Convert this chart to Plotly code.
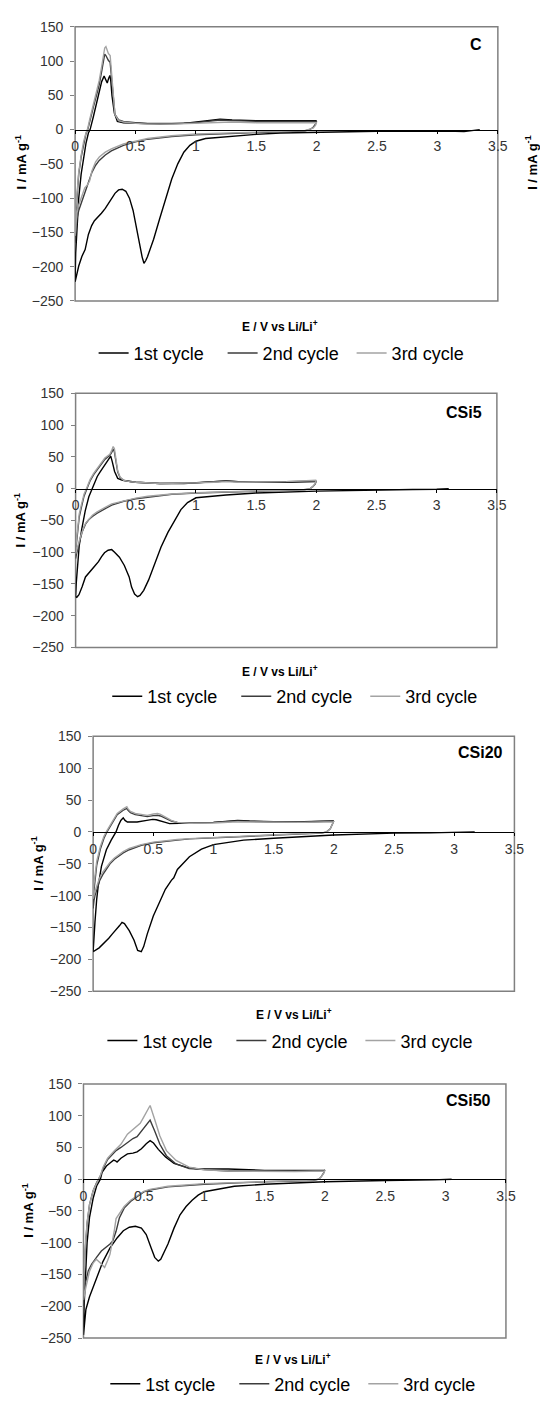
import plotly.graph_objects as go

# ---------------- data (E / V vs Li/Li+, I / mA g-1) ----------------
panel_names = ["C", "CSi5", "CSi20", "CSi50"]
cycle_names = ["1st cycle", "2nd cycle", "3rd cycle"]

# ---- C ----
C_E1 = [3.35, 3.3, 3.22, 3.15, 3.0, 2.5, 2.0, 1.7, 1.5, 1.25, 1.08, 1.0, 0.95, 0.9, 0.85, 0.8, 0.75, 0.7, 0.65,
        0.62, 0.6, 0.585, 0.57, 0.555, 0.535, 0.51, 0.48, 0.45, 0.42, 0.39, 0.36, 0.33, 0.285, 0.25, 0.218, 0.18,
        0.16, 0.137, 0.11, 0.083, 0.056, 0.03, 0.01, 0.0,
        0.005, 0.015, 0.03, 0.05, 0.07, 0.09, 0.11, 0.124, 0.15, 0.18, 0.2, 0.22, 0.24, 0.255, 0.266, 0.278, 0.288,
        0.296, 0.305, 0.325, 0.35, 0.4, 0.5, 0.7, 0.9, 1.0, 1.1, 1.2, 1.3, 1.5, 1.8, 2.0]
C_I1 = [0, -1, -3, -2.5, -2, -2.5, -3.5, -5, -7, -10, -13, -17, -23, -33, -50, -72, -100, -130, -160,
        -176, -185, -191, -195, -186, -168, -142, -118, -100, -90, -87, -88, -93, -106, -115, -122, -129,
        -133, -140, -153, -175, -185, -199, -212, -222,
        -180, -140, -100, -65, -40, -20, -5, 0, 18, 40, 55, 70, 78, 72, 68, 75, 79,
        70, 50, 24, 12, 10, 9, 8, 9, 11, 13, 15, 14, 13, 13, 13]
C_E2 = [2.0, 1.99, 1.97, 1.94, 1.9, 1.7, 1.5, 1.2, 1.0, 0.8, 0.6, 0.5, 0.4, 0.3, 0.25, 0.2, 0.17, 0.14, 0.12,
        0.1, 0.08, 0.05, 0.03, 0.015, 0.005, 0.0,
        0.005, 0.015, 0.03, 0.05, 0.07, 0.09, 0.105, 0.12, 0.15, 0.18, 0.2, 0.22, 0.235, 0.245, 0.255, 0.265,
        0.275, 0.29, 0.3, 0.315, 0.33, 0.36, 0.4, 0.5, 0.6, 0.8, 1.0, 1.1, 1.2, 1.3, 1.5, 1.8, 2.0]
C_I2 = [13, 8, 3, 0, -2, -3, -4, -6, -7.5, -10, -14, -18, -23, -31, -37, -45, -52, -62, -72,
        -85, -95, -108, -118, -130, -148, -165,
        -125, -95, -65, -40, -20, -6, 0, 12, 32, 52, 66, 85, 102, 110, 108, 104,
        101, 98, 80, 45, 22, 14, 12, 10, 9, 9, 10, 12, 14, 13, 12, 12, 12]
C_E3 = [2.0, 1.99, 1.97, 1.94, 1.9, 1.7, 1.5, 1.2, 1.0, 0.8, 0.6, 0.5, 0.4, 0.3, 0.25, 0.2, 0.17, 0.14, 0.12,
        0.1, 0.08, 0.06, 0.03, 0.015, 0.005, 0.0,
        0.005, 0.015, 0.03, 0.05, 0.07, 0.09, 0.105, 0.12, 0.15, 0.18, 0.2, 0.22, 0.235, 0.245, 0.255, 0.265,
        0.275, 0.29, 0.3, 0.315, 0.33, 0.36, 0.4, 0.5, 0.6, 0.8, 1.0, 1.1, 1.2, 1.3, 1.5, 1.8, 2.0]
C_I3 = [11, 6, 2, 0, -1.5, -2.5, -3.5, -5, -6.5, -9, -13, -17, -21, -28, -33, -40, -47, -60, -75,
        -81, -85, -95, -110, -122, -140, -155,
        -118, -90, -62, -38, -18, -5, 2, 14, 35, 56, 72, 92, 110, 119, 121, 116,
        111, 108, 88, 48, 22, 13, 11, 9, 8, 8, 9, 10, 11, 11, 10, 10, 10]

# ---- CSi5 ----
S5_E1 = [3.1, 3.0, 2.8, 2.5, 2.0, 1.5, 1.25, 1.0, 0.93, 0.875, 0.82, 0.767, 0.71, 0.66, 0.606, 0.566, 0.535,
         0.515, 0.49, 0.465, 0.445, 0.405, 0.364, 0.324, 0.3, 0.27, 0.24, 0.216, 0.19, 0.163, 0.135, 0.109,
         0.082, 0.055, 0.028, 0.01, 0.0,
         0.005, 0.015, 0.03, 0.05, 0.08, 0.11, 0.136, 0.16, 0.18, 0.2, 0.23, 0.26, 0.28, 0.292, 0.305, 0.324,
         0.35, 0.39, 0.5, 0.7, 0.9, 1.0, 1.15, 1.25, 1.35, 1.5, 1.75, 2.0]
S5_I1 = [0, -1, -1.5, -2, -4, -7, -10, -14.5, -22, -33, -51, -69, -92, -118, -144, -160, -168,
         -170, -166, -155, -139, -121, -108, -100, -96, -97, -101, -107, -115, -121, -127, -132,
         -139, -154, -167, -171, -170,
         -150, -118, -90, -65, -35, -13, 0, 10, 19, 25, 34, 42, 48, 51, 42, 27,
         16, 13, 10, 8, 8, 9, 11, 12, 11, 10, 10, 11]
S5_E2 = [2.0, 1.99, 1.97, 1.95, 1.9, 1.7, 1.5, 1.2, 1.0, 0.8, 0.7, 0.6, 0.5, 0.4, 0.3, 0.25, 0.2, 0.176, 0.14,
         0.109, 0.085, 0.069, 0.055, 0.042, 0.028, 0.015, 0.005, 0.0,
         0.005, 0.015, 0.03, 0.05, 0.07, 0.095, 0.12, 0.15, 0.176, 0.21, 0.243, 0.27, 0.284, 0.3, 0.312, 0.322,
         0.335, 0.35, 0.37, 0.4, 0.45, 0.5, 0.7, 0.9, 1.0, 1.15, 1.25, 1.35, 1.5, 1.75, 2.0]
S5_I2 = [12, 7, 3, 0, -2, -3, -4, -5.5, -7, -9, -11, -13, -16, -20, -26, -31, -36, -39, -44,
         -49, -55, -62, -68, -77, -86, -97, -105, -110,
         -90, -68, -45, -28, -12, 0, 12, 22, 29, 38, 46, 50, 52, 57, 62, 58,
         42, 26, 17, 13, 11, 10, 8, 8, 9, 11, 12, 11, 10, 11, 12]
S5_E3 = [2.0, 1.99, 1.97, 1.95, 1.9, 1.7, 1.5, 1.2, 1.0, 0.8, 0.7, 0.6, 0.5, 0.4, 0.3, 0.25, 0.2, 0.176, 0.14,
         0.109, 0.085, 0.069, 0.055, 0.042, 0.028, 0.015, 0.005, 0.0,
         0.005, 0.015, 0.03, 0.05, 0.07, 0.095, 0.12, 0.15, 0.176, 0.21, 0.243, 0.27, 0.284, 0.3, 0.312, 0.322,
         0.335, 0.35, 0.37, 0.4, 0.45, 0.5, 0.7, 0.9, 1.0, 1.15, 1.25, 1.35, 1.5, 1.75, 2.0]
S5_I3 = [13, 8, 3, 0, -1.5, -2.5, -3.5, -5, -6.5, -8.5, -10, -12, -15, -19, -24, -29, -34, -37, -42,
         -48, -54, -60, -67, -75, -84, -93, -100, -103,
         -85, -62, -40, -24, -9, 2, 14, 24, 31, 40, 48, 52, 54, 60, 66, 63,
         46, 28, 18, 13, 11, 10, 8, 8, 9, 10, 11, 10, 10, 11, 13]

# ---- CSi20 ----
S20_E1 = [3.17, 3.0, 2.8, 2.5, 2.0, 1.5, 1.25, 1.0, 0.9, 0.8, 0.7, 0.67, 0.65, 0.6, 0.55, 0.5, 0.45, 0.42,
          0.4, 0.37, 0.34, 0.3, 0.26, 0.24, 0.22, 0.19, 0.16, 0.13, 0.1, 0.05, 0.0,
          0.005, 0.015, 0.03, 0.042, 0.069, 0.11, 0.15, 0.19, 0.21, 0.23, 0.25, 0.265, 0.285, 0.32, 0.365,
          0.446, 0.495, 0.525, 0.554, 0.6, 0.635, 0.7, 0.8, 1.0, 1.1, 1.2, 1.3, 1.5, 1.75, 2.0]
S20_I1 = [0, -1, -1.5, -2, -5, -10, -13, -20, -27, -39, -59, -72, -76, -90, -111, -132, -160, -180,
          -188, -186, -170, -155, -144, -142, -147, -153, -160, -167, -173, -182, -188,
          -165, -142, -105, -85, -54, -28, -13, 0, 10, 18, 22, 18, 15.5, 15, 15.5,
          18, 19.6, 19, 17, 15, 13, 13, 14, 15, 17, 18, 17, 16, 16, 17]
S20_E2 = [2.0, 1.99, 1.97, 1.94, 1.9, 1.7, 1.5, 1.2, 1.0, 0.8, 0.7, 0.6, 0.5, 0.4, 0.3, 0.25, 0.2, 0.177,
          0.14, 0.109, 0.08, 0.055, 0.04, 0.028, 0.015, 0.007, 0.0,
          0.005, 0.015, 0.03, 0.06, 0.09, 0.115, 0.15, 0.2, 0.25, 0.27, 0.28, 0.29, 0.31, 0.35, 0.4, 0.45,
          0.5, 0.535, 0.56, 0.6, 0.65, 0.7, 0.8, 1.0, 1.1, 1.2, 1.3, 1.5, 1.75, 2.0]
S20_I2 = [17, 12, 5, 0, -2, -3.5, -5, -7, -9, -11, -13, -15, -17, -21, -28, -33, -39, -43,
          -50, -58, -67, -76, -84, -91, -100, -108, -120,
          -95, -75, -52, -27, -10, 0, 12, 27, 34, 36, 37, 34, 30, 27, 25, 24,
          25.5, 26, 25, 21, 17, 15, 14, 15, 16, 17, 16.5, 15.5, 15.5, 17]
S20_E3 = [2.0, 1.99, 1.97, 1.94, 1.9, 1.7, 1.5, 1.2, 1.0, 0.8, 0.7, 0.6, 0.5, 0.4, 0.3, 0.25, 0.2, 0.177,
          0.14, 0.109, 0.08, 0.055, 0.04, 0.028, 0.015, 0.007, 0.0,
          0.005, 0.015, 0.03, 0.06, 0.09, 0.115, 0.15, 0.2, 0.25, 0.27, 0.28, 0.29, 0.31, 0.35, 0.4, 0.45,
          0.5, 0.535, 0.56, 0.6, 0.65, 0.7, 0.8, 1.0, 1.1, 1.2, 1.3, 1.5, 1.75, 2.0]
S20_I3 = [17, 12, 5, 0, -1.5, -3, -4.5, -6.5, -8.5, -10.5, -12, -14, -16, -20, -26, -31, -37, -41,
          -48, -55, -63, -72, -79, -86, -94, -100, -105,
          -85, -66, -46, -23, -7, 2, 14, 29, 36, 38.5, 39.5, 36, 32, 29, 27, 26,
          28, 29, 27.5, 23, 18, 15, 13.5, 14, 15, 16, 15.5, 15, 15, 16]

# ---- CSi50 ----
S50_E1 = [3.05, 2.9, 2.5, 2.0, 1.5, 1.25, 1.0, 0.95, 0.9, 0.85, 0.8, 0.75, 0.7, 0.67, 0.64, 0.62, 0.59, 0.56,
          0.52, 0.48, 0.43, 0.38, 0.33, 0.28, 0.22, 0.16, 0.1, 0.05, 0.02, 0.005, 0.0,
          0.005, 0.015, 0.03, 0.05, 0.08, 0.11, 0.14, 0.154, 0.19, 0.23, 0.25, 0.265, 0.278, 0.31, 0.364, 0.41,
          0.444, 0.48, 0.52, 0.552, 0.58, 0.62, 0.68, 0.75, 0.85, 0.95, 1.1, 1.2, 1.5, 1.75, 2.0]
S50_I1 = [0, -1, -2, -4, -8, -11, -19.7, -25, -33, -43, -56, -77, -102, -115, -126, -129, -123, -108,
          -87, -77, -74, -75.6, -81, -92, -108, -130, -160, -185, -205, -235, -245,
          -200, -150, -100, -60, -30, -10, 0, 11, 20.7, 27, 30, 29, 27, 33, 40, 41,
          43, 48, 56, 60.6, 57, 47, 35, 25, 19, 16, 16, 16, 14, 14, 14]
S50_E2 = [2.0, 1.99, 1.97, 1.95, 1.9, 1.5, 1.0, 0.7, 0.55, 0.5, 0.444, 0.39, 0.337, 0.297, 0.27, 0.243, 0.22,
          0.2, 0.148, 0.108, 0.068, 0.04, 0.014, 0.003, 0.0,
          0.005, 0.015, 0.03, 0.05, 0.08, 0.11, 0.14, 0.162, 0.2, 0.256, 0.27, 0.31, 0.364, 0.41, 0.444, 0.5,
          0.552, 0.59, 0.633, 0.687, 0.767, 0.875, 1.0, 1.2, 1.5, 1.75, 2.0]
S50_I2 = [15, 10, 4, 0, -2, -4, -8, -12, -17, -20, -27.4, -35, -45.5, -61, -82, -97, -102,
          -105, -113, -123, -133.5, -144, -165, -190, -200,
          -160, -110, -70, -40, -18, -5, 5, 16.6, 31, 42, 45, 50, 58, 64, 67, 80,
          93, 76, 55, 37, 24, 16.6, 15, 13, 13, 13.5, 14]
S50_E3 = [2.0, 1.99, 1.97, 1.95, 1.9, 1.5, 1.0, 0.7, 0.55, 0.5, 0.444, 0.39, 0.337, 0.297, 0.27, 0.256, 0.24,
          0.22, 0.2, 0.175, 0.14, 0.106, 0.08, 0.05, 0.02, 0.0,
          0.005, 0.015, 0.03, 0.05, 0.08, 0.11, 0.14, 0.162, 0.2, 0.256, 0.31, 0.364, 0.43, 0.47, 0.5, 0.552,
          0.59, 0.633, 0.687, 0.767, 0.875, 1.0, 1.2, 1.5, 1.75, 2.0]
S50_I3 = [14, 9, 4, 0, -1.5, -3.5, -7, -11, -16, -19, -26, -33, -43, -55, -62, -80, -100,
          -118, -128, -139, -132, -126, -132, -145, -170, -190,
          -150, -105, -68, -40, -18, -5, 6, 19, 33, 45, 55, 71, 81, 88, 98, 116,
          94, 68, 45, 29.5, 19, 15, 13, 12, 12, 13]

panel_data = [
    [(C_E1, C_I1), (C_E2, C_I2), (C_E3, C_I3)],
    [(S5_E1, S5_I1), (S5_E2, S5_I2), (S5_E3, S5_I3)],
    [(S20_E1, S20_I1), (S20_E2, S20_I2), (S20_E3, S20_I3)],
    [(S50_E1, S50_I1), (S50_E2, S50_I2), (S50_E3, S50_I3)],
]

x_ticks = [0, 0.5, 1, 1.5, 2, 2.5, 3, 3.5]
x_tick_text = ["0", "0.5", "1", "1.5", "2", "2.5", "3", "3.5"]
y_ticks = [-250, -200, -150, -100, -50, 0, 50, 100, 150]
x_range = [0, 3.5]
y_range = [-250, 150]

# ---------------- layout geometry (pixels) ----------------
W, H = 540, 1403
# plot area: left, right, top, bottom
boxes = [(73, 507, 19, 297), (73.5, 506, 390.5, 648.3), (91.5, 524, 738.3, 996.7), (81.6, 515.3, 1090.7, 1348.3)]
ytitle_pos = [(17, 156), (16, 519), (34, 867.5), (25, 1219)]
xtitle_pos = [(283, 322), (283, 672), (298, 1019.5), (297, 1369.5)]
label_pos = [(485, 37), (472, 410), (489, 755), (477, 1107)]
legend_pos = [(92, 350), (106, 698), (101, 1047), (104, 1395)]

colors = ["#000000", "#3c3c3c", "#a3a3a3"]
FONT = "Liberation Sans, Arial, sans-serif"


def px_x(v):
    return v / W


def px_y(v):
    return 1 - v / H


fig = go.Figure()
annotations = []
shapes = []
layout = {}

for p in range(4):
    sfx = "" if p == 0 else str(p + 1)
    xa, ya = "x" + sfx, "y" + sfx
    leg = "legend" + sfx
    l, r, t, b = boxes[p]
    y0, y1 = px_y(b), px_y(t)
    zero_pos = y0 + (0 - y_range[0]) / (y_range[1] - y_range[0]) * (y1 - y0)
    for c in range(3):
        E, I = panel_data[p][c]
        fig.add_trace(go.Scatter(
            x=E, y=I, mode="lines", name=cycle_names[c],
            line=dict(color=colors[c], width=1.4),
            xaxis=xa, yaxis=ya, legend=leg, showlegend=True,
        ))
    layout["xaxis" + sfx] = dict(
        domain=[px_x(l), px_x(r)], range=x_range, anchor="free", position=zero_pos,
        tickmode="array", tickvals=x_ticks, ticktext=x_tick_text,
        showline=True, linecolor="#000000", linewidth=1.2,
        ticks="outside", ticklen=3, tickcolor="#000000", tickwidth=1,
        showgrid=False, zeroline=False, ticklabelstandoff=1,
        tickfont=dict(family=FONT, size=14, color="#333333"),
    )
    layout["yaxis" + sfx] = dict(
        domain=[y0, y1], range=y_range, anchor=xa,
        tickmode="array", tickvals=y_ticks,
        showline=False, ticks="outside", ticklen=4, tickcolor="#808080", tickwidth=1,
        showgrid=False, zeroline=False, ticklabelstandoff=4,
        tickfont=dict(family=FONT, size=14, color="#333333"),
    )
    shapes.append(dict(type="rect", xref=xa + " domain", yref=ya + " domain", x0=0, x1=1, y0=0, y1=1,
                       line=dict(color="#808080", width=1.5), fillcolor="rgba(0,0,0,0)", layer="below"))
    layout[leg] = dict(
        orientation="h", x=px_x(legend_pos[p][0]), y=px_y(legend_pos[p][1]),
        xanchor="left", yanchor="middle", itemwidth=30, traceorder="normal",
        entrywidth=84, entrywidthmode="pixels",
        font=dict(family=FONT, size=18, color="#000000"), bgcolor="rgba(0,0,0,0)",
        tracegroupgap=0, itemclick=False,
    )
    annotations.append(dict(
        text="<b>I / mA g<sup>-1</sup></b>", x=px_x(ytitle_pos[p][0]), y=px_y(ytitle_pos[p][1]),
        xref="paper", yref="paper", showarrow=False, textangle=-90,
        font=dict(family=FONT, size=13, color="#000000"), xanchor="center", yanchor="middle"))
    annotations.append(dict(
        text="<b>E / V vs Li/Li<sup>+</sup></b>", x=px_x(xtitle_pos[p][0]), y=px_y(xtitle_pos[p][1]),
        xref="paper", yref="paper", showarrow=False,
        font=dict(family=FONT, size=12, color="#000000"), xanchor="center", yanchor="middle"))
    annotations.append(dict(
        text="<b>%s</b>" % panel_names[p], x=px_x(label_pos[p][0]), y=px_y(label_pos[p][1]),
        xref="paper", yref="paper", showarrow=False,
        font=dict(family=FONT, size=16, color="#000000"), xanchor="center", yanchor="middle"))

# partially visible axis title of the neighbouring chart at the right edge
annotations.append(dict(
    text="<b>I / mA g<sup>-1</sup></b>", x=px_x(541), y=px_y(156),
    xref="paper", yref="paper", showarrow=False, textangle=-90,
    font=dict(family=FONT, size=13, color="#000000"), xanchor="center", yanchor="middle"))

fig.update_layout(
    width=W, height=H, margin=dict(l=0, r=0, t=0, b=0),
    paper_bgcolor="#ffffff", plot_bgcolor="#ffffff",
    annotations=annotations, shapes=shapes, **layout,
)

fig.write_html("out.html")
